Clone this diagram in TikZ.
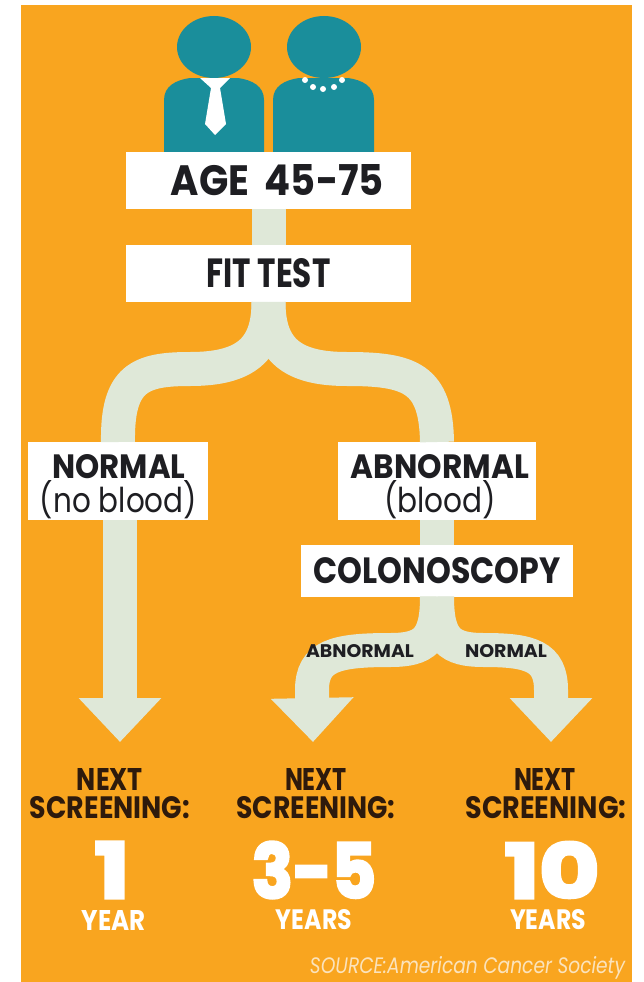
\documentclass[tikz,border=0pt]{standalone}
\usepackage{fontspec}
\usepackage{graphicx}
\setmainfont{Poppins}
\newfontfamily\heavyfont[BoldFeatures={FakeBold=4}]{Poppins}
\usetikzlibrary{arrows.meta}
\definecolor{bgorange}{HTML}{F9A51F}
\definecolor{teal1}{HTML}{1A8E9B}
\definecolor{flowc}{HTML}{DFE8D8}
\definecolor{inkc}{HTML}{1E1E22}
\definecolor{darkbrown}{HTML}{2E1A0C}
\definecolor{srcc}{HTML}{FBE3BC}
\newcommand{\fitT}[3]{\resizebox{#1pt}{#2pt}{#3}}
\tikzset{
  box/.style={fill=white,inner sep=0pt,outer sep=0pt,text=inkc,align=center},
  flow/.style={draw=flowc,line width=34pt},
  flowarrow/.style={flow,-{Triangle[length=44pt,width=80pt]}},
  lbl/.style={inner sep=0pt,outer sep=0pt,align=center},
  person/.style={fill=teal1,draw=none},
  pearl/.style={circle,fill=white,inner sep=0pt,minimum size=6pt}
}
\begin{document}
\begin{tikzpicture}[x=1pt,y=-1pt]
\useasboundingbox (0,0) rectangle (644,982);
\fill[bgorange] (21,5) rectangle (632,982);
% people
\fill[person] (214,47) ellipse [x radius=37,y radius=31];
\fill[person] (324,47) ellipse [x radius=37,y radius=31];
\fill[person] (164,155) -- (164,100) .. controls (164,86) and (176,80) .. (190,78) -- (238,78) .. controls (252,80) and (264,86) .. (264,100) -- (264,155) -- cycle;
\fill[person] (273,155) -- (273,100) .. controls (273,86) and (285,80) .. (299,78) -- (348,78) .. controls (362,80) and (374,86) .. (374,100) -- (374,155) -- cycle;
\fill[white] (200,78) -- (230,78) -- (220,88) -- (226,124) -- (215,135) -- (205,124) -- (211,88) -- cycle;
\node[pearl] (p1) at (305,80) {};
\node[pearl] (p2) at (313,87) {};
\node[pearl] (p3) at (323,89) {};
\node[pearl] (p4) at (334,87) {};
\node[pearl] (p5) at (342,80) {};
% boxes
\node[box,minimum width=285pt,minimum height=57pt] (age) at (268.5,180) {};
\node[box,minimum width=285pt,minimum height=57pt] (fit) at (268.5,273.5) {\fitT{124}{29}{\bfseries FIT TEST}};
\node[box,minimum width=180pt,minimum height=78pt] (normal) at (118,481) {};
\node[box,minimum width=198pt,minimum height=78pt] (abnormal) at (437,481) {};
\node[box,minimum width=272pt,minimum height=52pt] (colon) at (437,570.5) {\fitT{247}{26}{\bfseries COLONOSCOPY}};
\coordinate (tipA) at (120,742);
\coordinate (tipB) at (313,742);
\coordinate (tipC) at (551,742);
% flow lines
\path[flow] (age.south) -- (fit.north);
\path[flow] (fit.south) .. controls (268.5,350) and (245,369) .. (190,369) .. controls (140,369) and (117,378) .. (normal.north);
\path[flow] (fit.south) .. controls (268.5,350) and (292,369) .. (347,369) .. controls (410,369) and (436,378) .. (abnormal.north);
\path[flow] (abnormal.south) -- (colon.north);
\path[flowarrow] (normal.south -| tipA) -- (tipA);
\path[flowarrow] (colon.south) .. controls (437,640) and (425,650) .. (390,650) .. controls (335,650) and (312,656) .. (312,690) -- (tipB);
\path[flowarrow] (colon.south) .. controls (437,640) and (449,650) .. (484,650) .. controls (530,650) and (551,656) .. (551,690) -- (tipC);
% labels
\node[lbl,text=inkc] (t0) at (277.5,180) {\fitT{213}{31}{\bfseries AGE\kern0.4em 45-75}};
\node[lbl,text=inkc] (t1) at (119,467) {\fitT{133}{24}{\bfseries NORMAL}};
\node[lbl,text=inkc] (t2) at (118.5,500) {\fitT{157}{32}{(no blood)}};
\node[lbl,text=inkc] (t3) at (440,467) {\fitT{178}{24}{\bfseries ABNORMAL}};
\node[lbl,text=inkc] (t4) at (440,500) {\fitT{112}{32}{(blood)}};
\node[lbl,text=inkc] (t5) at (360,651) {\fitT{108}{13}{\bfseries ABNORMAL}};
\node[lbl,text=inkc] (t6) at (506,651) {\fitT{82}{13}{\bfseries NORMAL}};
% results
\node[lbl,text=darkbrown] (n1) at (110,779) {\fitT{66}{22}{\bfseries NEXT}};
\node[lbl,text=darkbrown] (s1) at (110,808) {\fitT{160}{22}{\bfseries SCREENING:}};
\node[lbl,text=darkbrown] (n2) at (316,779) {\fitT{62}{22}{\bfseries NEXT}};
\node[lbl,text=darkbrown] (s2) at (316,808) {\fitT{159}{22}{\bfseries SCREENING:}};
\node[lbl,text=darkbrown] (n3) at (545,779) {\fitT{62}{22}{\bfseries NEXT}};
\node[lbl,text=darkbrown] (s3) at (546,808) {\fitT{161}{22}{\bfseries SCREENING:}};
\node[lbl,text=white] (v1) at (112,870) {\fitT{35}{56}{\heavyfont\bfseries 1}};
\node[lbl,text=white] (v2) at (314,870) {\fitT{124}{56}{\heavyfont\bfseries 3-5}};
\node[lbl,text=white] (v3) at (552,870) {\fitT{95}{56}{\heavyfont\bfseries 10}};
\node[lbl,text=white] (y1) at (114,920) {\fitT{64}{20}{\bfseries YEAR}};
\node[lbl,text=white] (y2) at (314,920) {\fitT{76}{20}{\bfseries YEARS}};
\node[lbl,text=white] (y3) at (548,920) {\fitT{76}{20}{\bfseries YEARS}};
\node[lbl,text=srcc,anchor=east] (src) at (625,968) {\fitT{315}{17}{\itshape SOURCE:American Cancer Society}};
\end{tikzpicture}
\end{document}
